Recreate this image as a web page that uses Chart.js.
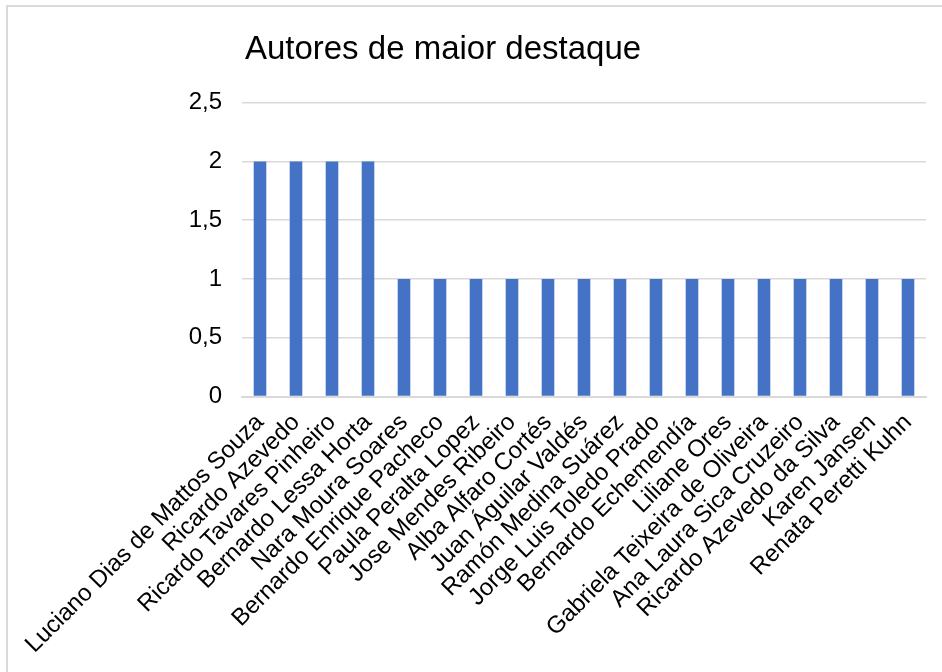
<!DOCTYPE html>
<html>
<head>
<meta charset="utf-8">
<script src="https://cdn.jsdelivr.net/npm/chart.js@4.4.1/dist/chart.umd.min.js"></script>
<style>
    html, body { margin: 0; padding: 0; overflow: hidden; background: #fff; }
    .frame {
        position: absolute; left: 6px; top: 5px;
        width: 1000px; height: 1000px;
        border: 2px solid #d9d9d9;
    }
    .wrap { position: absolute; left: 0; top: 0; width: 942px; height: 672px; }
</style>
</head>
<body>
<div class="frame"></div>
<div class="wrap"><canvas id="chart" width="942" height="672"></canvas></div>
<script>
const chartTitle = 'Autores de maior destaque';

const authors = [
    'Luciano Dias de Mattos Souza',
    'Ricardo Azevedo',
    'Ricardo Tavares Pinheiro',
    'Bernardo Lessa Horta',
    'Nara Moura Soares',
    'Bernardo Enrique Pacheco',
    'Paula Peralta Lopez',
    'Jose Mendes Ribeiro',
    'Alba Alfaro Cortés',
    'Juan Águilar Valdés',
    'Ramón Medina Suárez',
    'Jorge Luis Toledo Prado',
    'Bernardo Echemendía',
    'Liliane Ores',
    'Gabriela Teixeira de Oliveira',
    'Ana Laura Sica Cruzeiro',
    'Ricardo Azevedo da Silva',
    'Karen Jansen',
    'Renata Peretti Kuhn'
];

const counts = [2, 2, 2, 2, 1, 1, 1, 1, 1, 1, 1, 1, 1, 1, 1, 1, 1, 1, 1];

const yTicks = [0, 0.5, 1, 1.5, 2, 2.5];

const font = 'Liberation Sans, Arial, sans-serif';

// the title in the original sits a bit left of the centre
const shiftTitle = {
    id: 'shiftTitle',
    afterLayout(chart) {
        if (chart.titleBlock) chart.titleBlock.right -= 40;
    }
};

new Chart(document.getElementById('chart'), {
    type: 'bar',
    data: {
        labels: authors,
        datasets: [{
            data: counts,
            backgroundColor: '#4472C4',
            borderWidth: 0,
            barPercentage: 0.35,
            categoryPercentage: 1
        }]
    },
    plugins: [shiftTitle],
    options: {
        responsive: false,
        animation: false,
        layout: { padding: { top: 30, left: 0, right: 16, bottom: 0 } },
        plugins: {
            legend: { display: false },
            tooltip: { enabled: false },
            title: {
                display: true,
                text: chartTitle,
                color: '#000',
                font: { family: font, size: 33, weight: 'normal' },
                padding: { top: 0, bottom: 33 }
            }
        },
        scales: {
            x: {
                grid: { display: false, drawTicks: false },
                border: { display: true, color: '#d9d9d9', width: 2 },
                ticks: {
                    color: '#000',
                    font: { family: font, size: 24 },
                    maxRotation: 45,
                    minRotation: 45,
                    autoSkip: false,
                    padding: 12
                },
                afterFit: s => {
                    s.height = 275.5;
                    s.paddingLeft = 0;
                    s.paddingRight = 0;
                }
            },
            y: {
                min: yTicks[0],
                max: yTicks[yTicks.length - 1],
                grid: { color: '#d9d9d9', lineWidth: 1.5, drawTicks: false },
                border: { display: false },
                afterBuildTicks: s => { s.ticks = yTicks.map(v => ({ value: v })); },
                ticks: {
                    color: '#000',
                    font: { family: font, size: 24 },
                    padding: 20,
                    callback: v => String(v).replace('.', ',')
                },
                afterFit: s => { s.width = 242; }
            }
        }
    }
});
</script>
</body>
</html>
